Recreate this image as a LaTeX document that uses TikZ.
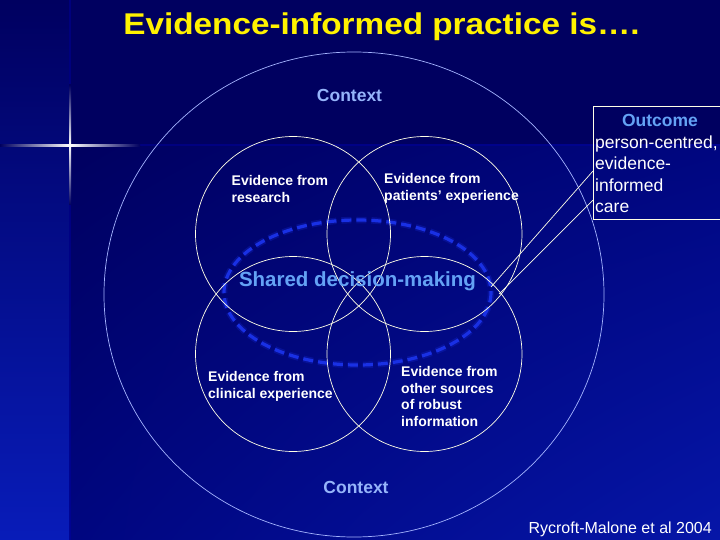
\documentclass[tikz,border=0pt]{standalone}
\usepackage{fontspec}
\setmainfont{Liberation Sans}
\usepackage{graphicx}
\usetikzlibrary{positioning,shadings}
\definecolor{bgtop}{RGB}{0,0,96}
\definecolor{bgmid}{RGB}{0,6,128}
\definecolor{bgbot}{RGB}{6,22,168}
\definecolor{stripbot}{RGB}{8,28,185}
\definecolor{ctxblue}{RGB}{150,180,250}
\definecolor{sdmblue}{RGB}{100,162,245}
\definecolor{dashblue}{RGB}{25,48,228}
\definecolor{ringline}{RGB}{165,180,255}
\definecolor{cream}{RGB}{255,255,230}

\begin{document}
\begin{tikzpicture}[x=1pt,y=-1pt,
    evid/.style={draw=cream, line width=0.7pt, circle, minimum size=195pt, inner sep=0pt},
    evtext/.style={text=white, font=\fontsize{14}{16.8}\selectfont\bfseries, align=left, inner sep=0pt, anchor=north west},
    ctx/.style={text=ctxblue, font=\fontsize{17.5}{20}\selectfont\bfseries, inner sep=0pt, anchor=base},
    outbox/.style={draw=cream, line width=0.8pt, minimum width=140pt, minimum height=113pt, inner sep=0pt, anchor=north west},
    link/.style={draw=cream, line width=0.7pt}]
\useasboundingbox (0,0) rectangle (720,540);
\clip (0,0) rectangle (720,540);

% background
\fill[bgtop] (0,0) rectangle (720,540);
\shade[upper left=bgtop, upper right=bgmid, lower left=bgmid, lower right=bgbot] (69,145) rectangle (720,540);
\shade[upper left=bgtop, upper right=bgtop, lower left=stripbot, lower right=stripbot] (0,0) rectangle (69,540);
\fill[blue!70!black, opacity=0.35] (69,0) rectangle (71,540);
\fill[blue!70!black, opacity=0.35] (0,144) rectangle (720,146);
\shade[left color=bgtop, right color=bgtop, middle color=white] (0,144.2) rectangle (140,146.2);
\shade[top color=bgtop, bottom color=bgtop, middle color=white] (69,85) rectangle (71,205);

% title
\node[text=yellow, font=\fontsize{30}{34}\selectfont\bfseries, inner sep=0pt, anchor=base] (title) at (381.5,34.4) {\scalebox{1.11}[1]{Evidence-informed practice is….}};

% context ring
\draw[ringline, line width=0.7pt] (354,294.5) ellipse [x radius=250, y radius=242.5];
\node[ctx] (ctxtop) at (349.5,102) {Context};
\node[ctx] (ctxbot) at (356,493) {Context};

% shared decision-making
\draw[dashblue, line width=6.5pt, opacity=0.25, dash pattern=on 10pt off 5pt] (357.5,292.5) ellipse [x radius=133.5, y radius=72.5];
\draw[dashblue, line width=3.2pt, dash pattern=on 10pt off 5pt] (357.5,292.5) ellipse [x radius=133.5, y radius=72.5];
\coordinate (sdmA) at (491,287);
\coordinate (sdmB) at (499,294);

% four sources of evidence
\node[evid] (research) at (293,234) {};
\node[evid] (patients) at (424.5,234) {};
\node[evid] (clinical) at (293,354) {};
\node[evid] (sources) at (424.5,354) {};

\node[evtext] (researchtxt) at (231.5,175) {Evidence from\\research};
\node[evtext] (patientstxt) at (384,173) {Evidence from\\patients’ experience};
\node[evtext] (clinicaltxt) at (208,371) {Evidence from\\clinical experience};
\node[evtext] (sourcestxt) at (401,366) {Evidence from\\other sources\\of robust\\information};

\node[text=sdmblue, font=\fontsize{20.5}{24}\selectfont\bfseries, inner sep=0pt, anchor=base] (sdm) at (357.5,286.5) {Shared decision-making};

% outcome
\node[outbox] (outcome) at (593,106) {};
\node[text=sdmblue, font=\fontsize{17.5}{20}\selectfont\bfseries, inner sep=0pt, anchor=base] (outhead) at (660,126.5) {Outcome};
\node[text=white, font=\fontsize{17.5}{21.5}\selectfont, align=left, inner sep=0pt, anchor=north west] (outcare) at (595,135.5) {person-centred,\\evidence-\\informed\\care};
\coordinate (outA) at (593,171);
\coordinate (outB) at (593,200);
\draw[link] (outA) -- (sdmA);
\draw[link] (outB) -- (sdmB);

% reference
\node[text=white, font=\fontsize{16}{18}\selectfont, inner sep=0pt, anchor=base east] (cite) at (712,533) {Rycroft-Malone et al 2004};
\end{tikzpicture}
\end{document}
